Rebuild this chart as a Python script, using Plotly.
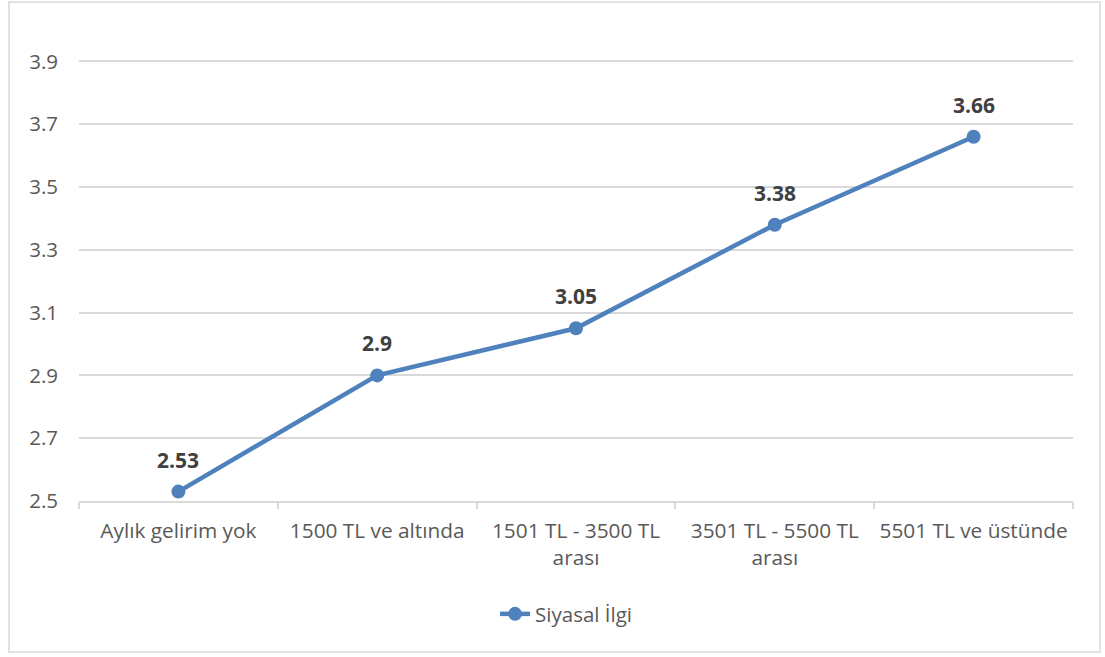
import plotly.graph_objects as go

categories = ["Aylık gelirim yok", "1500 TL ve altında", "1501 TL - 3500 TL<br>arası",
              "3501 TL - 5500 TL<br>arası", "5501 TL ve üstünde"]
values = [2.53, 2.9, 3.05, 3.38, 3.66]
series_name = "Siyasal İlgi"
y_ticks = [2.5, 2.7, 2.9, 3.1, 3.3, 3.5, 3.7, 3.9]

font_family = "Open Sans, sans-serif"
line_color = "#4F81BD"
grid_color = "#d9d9d9"

fig = go.Figure()
fig.add_trace(
    go.Scatter(
        x=categories, y=values,
        mode="lines+markers",
        name=series_name,
        line=dict(color=line_color, width=4.5),
        marker=dict(color=line_color, size=14),
        hoverinfo="skip",
    )
)

# data labels above points
for c, v in zip(categories, values):
    fig.add_annotation(
        x=c, y=v, text="<b>%g</b>" % v,
        showarrow=False, yshift=32,
        font=dict(family=font_family, size=21, color="#404040"),
    )

fig.update_xaxes(
    type="category",
    range=[-0.5, len(categories) - 0.5],
    tickson="boundaries",
    ticks="outside", ticklen=6, tickcolor=grid_color, tickwidth=1.5,
    showline=True, linecolor=grid_color, linewidth=1.5,
    showgrid=False, automargin=False,
    ticklabelstandoff=10,
    tickfont=dict(family=font_family, size=20.8, color="#595959"),
)
fig.update_yaxes(
    range=[2.5, 4.0],
    tickvals=y_ticks,
    ticktext=["%g" % t for t in y_ticks],
    showgrid=True, gridcolor=grid_color, gridwidth=1.5,
    zeroline=False, showline=False, automargin=False,
    ticklabelstandoff=20,
    tickfont=dict(family=font_family, size=20.5, color="#595959"),
)

# outer chart border
fig.add_shape(
    type="rect", xref="paper", yref="paper",
    x0=-0.0704, x1=1.0272, y0=-0.3206, y1=1.0594,
    line=dict(color=grid_color, width=1.5),
)

fig.update_layout(
    width=1105, height=657,
    margin=dict(l=79, r=32, t=30, b=156),
    paper_bgcolor="white", plot_bgcolor="white",
    showlegend=True,
    legend=dict(
        orientation="h", x=0.490, xanchor="center", y=-0.24, yanchor="middle",
        font=dict(family=font_family, size=20.5, color="#595959"),
    ),
    hovermode=False,
)

fig.write_html("out.html", config={"displayModeBar": False},
               post_script="document.body.style.margin='0';")
